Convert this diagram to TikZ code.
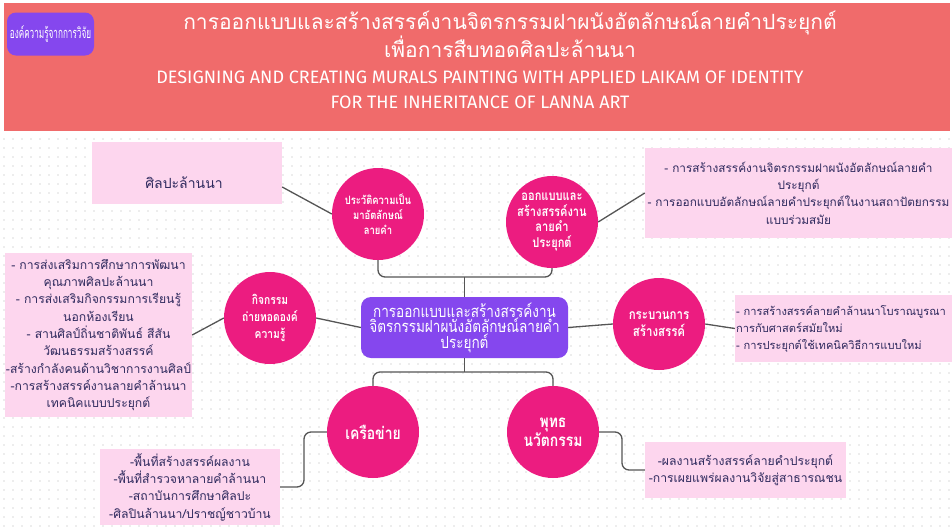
\documentclass[tikz,border=0pt]{standalone}
\usepackage{fontspec}
\newfontfamily\thai[Script=Thai]{Loma}
\newfontfamily\thaic[Script=Thai,FakeStretch=0.82]{Loma}
\newfontfamily\thaicc[Script=Thai,FakeStretch=0.56]{Loma}
\newfontfamily\eng{Fira Sans}
\definecolor{headc}{HTML}{F06B6B}
\definecolor{purp}{HTML}{8547EE}
\definecolor{mag}{HTML}{EC1C80}
\definecolor{pinkc}{HTML}{FDD6EE}
\definecolor{navy}{HTML}{2F2A5E}
\definecolor{linec}{HTML}{555555}
\definecolor{dotc}{HTML}{DCDCDC}
\tikzset{
  circ/.style={circle, fill=mag, minimum size=92pt, inner sep=0pt, text=white, align=center, font=\thaic\bfseries\fontsize{11.5}{15}\selectfont},
  pbox/.style={fill=pinkc, text=navy, inner sep=0pt, font=\thai\fontsize{12.2}{17.3}\selectfont},
  conn/.style={draw=linec, line width=1.3pt, rounded corners=7pt}
}
\begin{document}
\begin{tikzpicture}[x=1pt,y=-1pt]
\useasboundingbox (0,0) rectangle (952,528);
\fill[white] (0,0) rectangle (952,528);
\foreach \i in {0,...,105}{\foreach \j in {15,...,58}{\fill[dotc] (\i*9+4,\j*9+4) circle (0.8pt);}}
% header
\fill[headc] (4,3) rectangle (950,131);
\node[fill=purp, rounded corners=9pt, minimum width=87pt, minimum height=43pt, inner sep=0pt, text=white, font=\thaicc\fontsize{14.6}{15}\selectfont] (lab) at (50.5,34) {องค์ความรู้จากการวิจัย};
\node[text=white, align=center, font=\thai\fontsize{21}{21}\selectfont] (tth) at (510,34) {การออกแบบและสร้างสรรค์งานจิตรกรรมฝาผนังอัตลักษณ์ลายคำประยุกต์\\เพื่อการสืบทอดศิลปะล้านนา};
\node[text=white, align=center, font=\eng\fontsize{18}{25}\selectfont] (ten) at (480,90) {DESIGNING AND CREATING MURALS PAINTING WITH APPLIED LAIKAM OF IDENTITY\\FOR THE INHERITANCE OF LANNA ART};
% center
\node[fill=purp, rounded corners=10pt, minimum width=207pt, minimum height=61pt, inner sep=0pt, text=white, align=center, font=\thaic\fontsize{16.5}{15.5}\selectfont] (ctr) at (464.5,327.5) {การออกแบบและสร้างสรรค์งาน\\จิตรกรรมฝาผนังอัตลักษณ์ลายคำ\\ประยุกต์};
% circles
\node[circ] (c1) at (378,214) {ประวัติความเป็น\\มาอัตลักษณ์\\ลายคำ};
\node[circ, font=\thaic\bfseries\fontsize{13.5}{15.5}\selectfont] (c2) at (552,222) {ออกแบบและ\\สร้างสรรค์งาน\\ลายคำ\\ประยุกต์};
\node[circ, font=\thaic\bfseries\fontsize{12.5}{17}\selectfont] (c3) at (270,318) {กิจกรรม\\ถ่ายทอดองค์\\ความรู้};
\node[circ, font=\thaic\bfseries\fontsize{14}{17}\selectfont] (c4) at (659,324) {กระบวนการ\\สร้างสรรค์};
\node[circ, font=\thaic\bfseries\fontsize{17}{17}\selectfont] (c5) at (373,432) {เครือข่าย};
\node[circ, font=\thaic\bfseries\fontsize{17}{17}\selectfont] (c6) at (553,432) {พุทธ\\นวัตกรรม};
% boxes
\node[pbox, minimum width=190pt, minimum height=62pt] (b1) at (187,173) {};
\node[text=navy, font=\thai\fontsize{14}{17}\selectfont] (b1t) at (184,183) {ศิลปะล้านนา};
\node[pbox, minimum width=307pt, minimum height=90pt, align=center, font=\thai\fontsize{11.8}{17.3}\selectfont] (b2) at (798.5,193) {- การสร้างสรรค์งานจิตรกรรมฝาผนังอัตลักษณ์ลายคำ\\ประยุกต์\\- การออกแบบอัตลักษณ์ลายคำประยุกต์ในงานสถาปัตยกรรม\\แบบร่วมสมัย};
\node[pbox, minimum width=187pt, minimum height=164pt, align=center] (b3) at (98.5,335) {- การส่งเสริมการศึกษาการพัฒนา\\คุณภาพศิลปะล้านนา\\ - การส่งเสริมกิจกรรมการเรียนรู้\\นอกห้องเรียน\\ - สานศิลป์ถิ่นชาติพันธ์ สีสัน\\วัฒนธรรมสร้างสรรค์\\-สร้างกำลังคนด้านวิชาการงานศิลป์\\-การสร้างสรรค์งานลายคำล้านนา\\เทคนิคแบบประยุกต์};
\node[pbox, minimum width=217pt, minimum height=67pt] (b4) at (843.5,328.5) {};
\node[text=navy, inner sep=0pt, anchor=west, align=left, font=\thai\fontsize{11.1}{17.3}\selectfont] (b4t) at (736,329) {- การสร้างสรรค์ลายคำล้านนาโบราณบูรณา\\การกับศาสตร์สมัยใหม่\\- การประยุกต์ใช้เทคนิควิธีการแบบใหม่};
\node[pbox, minimum width=180pt, minimum height=76pt, align=center] (b5) at (190,487) {-พื้นที่สร้างสรรค์ผลงาน\\-พื้นที่สำรวจหาลายคำล้านนา\\-สถาบันการศึกษาศิลปะ\\-ศิลปินล้านนา/ปราชญ์ชาวบ้าน};
\node[pbox, minimum width=201pt, minimum height=56pt, align=center] (b6) at (745.5,470) {-ผลงานสร้างสรรค์ลายคำประยุกต์\\-การเผยแพร่ผลงานวิจัยสู่สาธารณชน};
% connectors
\coordinate (tj) at (464.5,277);
\coordinate (bj) at (464.5,372);
\coordinate (k5) at (304,432);
\coordinate (k6) at (622,432);
\draw[conn] (c1.south) |- (tj) -| (c2.south);
\draw[conn] (ctr.north) -- (tj);
\draw[conn] (c5.north) |- (bj) -| (c6.north);
\draw[conn] (ctr.south) -- (bj);
\draw[conn] (c3.east) -- (ctr.west);
\draw[conn] (ctr.east) -- (c4.west);
\draw[conn] (b1.east) ++(0,14) -- (c1.west);
\draw[conn] (c2.east) -- (b2.west);
\draw[conn] (b3.east) -- (c3.west);
\draw[conn] (c4.east) -- (b4.west);
\draw[conn] (c5.west) -- (k5) |- (b5.east);
\draw[conn] (c6.east) -- (k6) |- (b6.west);
\end{tikzpicture}
\end{document}
